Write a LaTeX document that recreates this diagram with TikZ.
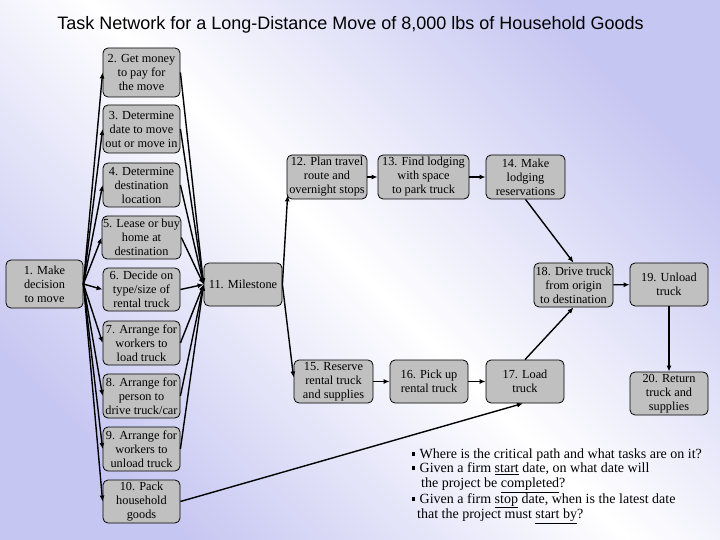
\documentclass[tikz,border=0pt]{standalone}
\usepackage{fontspec}
\setmainfont{Liberation Serif}
\newfontfamily\titlefont{Liberation Sans}
\usetikzlibrary{arrows.meta,calc}
\definecolor{lav}{RGB}{198,198,242}
\definecolor{boxgray}{RGB}{192,192,192}
\tikzset{
  task/.style={draw=black, line width=0.8pt, fill=boxgray, rounded corners=5pt,
    minimum width=77pt, minimum height=44pt, align=center, inner sep=1pt,
    font=\fontsize{12.3}{14}\selectfont},
  arr/.style={line width=1.4pt, -{Latex[length=6pt,width=5pt]}},
  plain/.style={line width=1.4pt}
}
\newcommand{\bul}{\raisebox{2.5pt}{\rule{2.5pt}{4pt}}\hspace{5pt}}
\begin{document}
\begin{tikzpicture}[x=1pt,y=-1pt]
\shade[top color=lav, bottom color=lav, middle color=white, shading angle=-45] (0,0) rectangle (720,540);
\useasboundingbox (0,0) rectangle (720,540);

\node[font=\titlefont\fontsize{18}{22}\selectfont] (title) at (350.5,25) {Task Network for a Long-Distance Move of 8,000 lbs of Household Goods};

\node[task, minimum height=48pt] (n1) at (44.5,284) {1. Make\\decision\\to move};
\node[task, minimum height=49pt] (n2) at (141.5,72.5) {2. Get money\\to pay for\\the move};
\node[task, minimum height=48pt] (n3) at (141.5,129) {3. Determine\\date to move\\out or move in};
\node[task] (n4) at (141.5,185) {4. Determine\\destination\\location};
\node[task, minimum height=43pt] (n5) at (141.5,237.5) {5. Lease or buy\\home at\\destination};
\node[task, minimum height=43pt] (n6) at (141.5,289.5) {6. Decide on\\type/size of\\rental truck};
\node[task] (n7) at (141.5,343) {7. Arrange for\\workers to\\load truck};
\node[task] (n8) at (141.5,396) {8. Arrange for\\person to\\drive truck/car};
\node[task] (n9) at (141.5,449) {9. Arrange for\\workers to\\unload truck};
\node[task, minimum height=43pt] (n10) at (141.5,501.5) {10. Pack\\household\\goods};
\node[task, minimum width=78pt, minimum height=43pt] (n11) at (243,284.5) {11. Milestone};
\node[task, minimum width=80pt] (n12) at (327,177) {12. Plan travel\\route and\\overnight stops};
\node[task, minimum width=91pt] (n13) at (423.5,177) {13. Find lodging\\with space\\to park truck};
\node[task, minimum width=79pt] (n14) at (525.5,177) {14. Make\\lodging\\reservations};
\node[task, minimum width=79pt] (n18) at (573.5,285) {18. Drive truck\\from origin\\to destination};
\node[task, minimum width=78pt, minimum height=43pt] (n19) at (669,284.5) {19. Unload\\truck};
\node[task, minimum width=79pt, minimum height=43pt] (n15) at (333.5,381.5) {15. Reserve\\rental truck\\and supplies};
\node[task, minimum width=78pt, minimum height=43pt] (n16) at (429,381.5) {16. Pick up\\rental truck};
\node[task, minimum width=78pt, minimum height=43pt] (n17) at (525,381.5) {17. Load\\truck};
\node[task, minimum width=78pt, minimum height=43pt] (n20) at (669,393.5) {20. Return\\truck and\\supplies};

\foreach \k in {2,...,10} \draw[arr] (n1.east) -- (n\k.west);
\foreach \k in {2,...,9} \draw[arr] (n\k.east) -- (n11.west);
\draw[arr] (n10.east) -- ([xshift=-2pt]n17.south);
\draw[arr] (n11.east) -- ([xshift=1pt,yshift=4pt]n12.south west);
\draw[arr] (n11.east) -- ([yshift=4pt]n15.west);
\draw[arr] (n12) -- (n13);
\draw[arr] (n13) -- (n14);
\draw[arr] (n14.south) -- (n18.north);
\draw[arr] (n15) -- (n16);
\draw[arr] (n16) -- (n17);
\draw[arr] (n17.north) -- (n18.south);
\draw[arr] (n18) -- (n19);
\draw[arr] (n19) -- (n20);

\node[anchor=north west, align=left, inner sep=0pt, font=\fontsize{14}{14.5}\selectfont] (notes) at (412,448.5) {%
\bul Where is the critical path and what tasks are on it?\\
\bul Given a firm \underline{start} date, on what date will\\
\hspace{9pt}the project be \underline{completed}?\\
\bul Given a firm \underline{stop} date, when is the latest date\\
\hspace{5pt}that the project must \underline{start by}?};
\end{tikzpicture}
\end{document}
